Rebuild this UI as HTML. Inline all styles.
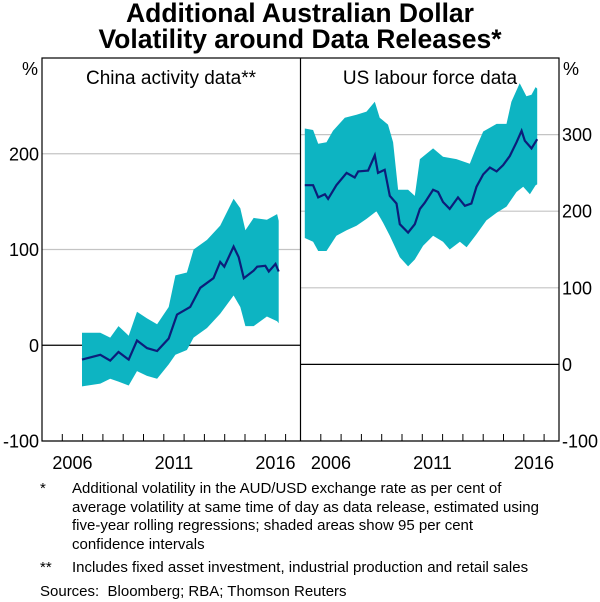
<!DOCTYPE html>
<html><head><meta charset="utf-8"><style>
body{margin:0;background:#fff;font-family:"Liberation Sans",Arial,sans-serif;}
#wrap{position:relative;width:600px;height:602px;overflow:hidden;}
.t{position:absolute;left:0;width:600px;text-align:center;font-weight:bold;font-size:26.5px;line-height:28px;}
.fn{position:absolute;font-size:15px;line-height:18.5px;white-space:nowrap;}
</style></head><body>
<div id="wrap">
<div class="t" style="top:-1px">Additional Australian Dollar</div>
<div class="t" style="top:25px">Volatility around Data Releases*</div>
<svg id="svg" width="600" height="602" style="position:absolute;left:0;top:0"></svg>
<div class="fn" style="left:40px;top:480px">*</div>
<div class="fn" style="left:72px;top:480px">Additional volatility in the AUD/USD exchange rate as per cent of<br>average volatility at same time of day as data release, estimated using<br>five-year rolling regressions; shaded areas show 95 per cent<br>confidence intervals</div>
<div class="fn" style="left:40px;top:559px">**</div>
<div class="fn" style="left:72px;top:559px">Includes fixed asset investment, industrial production and retail sales</div>
<div class="fn" style="left:40px;top:583px">Sources:&nbsp; Bloomberg; RBA; Thomson Reuters</div>
</div>
<script>
// China panel data
const chinaLineYears=[2006.97,2007.87,2008.36,2008.77,2009.27,2009.68,2010.17,2010.67,2011.24,2011.65,2012.3,2012.8,2013.45,2013.78,2013.98,2014.44,2014.69,2014.94,2015.43,2015.6,2016.0,2016.17,2016.5,2016.66];
const chinaLine=[-15,-10,-16,-7,-15,5,-3,-6,7,32,40,60,70,87,82,103,92,70,78,82,83,77,85,77];
const chinaBandYears=[2006.97,2007.87,2008.36,2008.77,2009.27,2009.68,2010.17,2010.67,2011.24,2011.57,2012.14,2012.47,2013.13,2013.78,2014.44,2014.77,2015.02,2015.43,2016.08,2016.58,2016.66];
const chinaUpper=[13,13,8,20,10,35,28,22,40,73,76,100,110,125,153,143,120,133,131,137,130];
const chinaLower=[-43,-40,-35,-38,-42,-27,-32,-35,-20,-10,-5,8,18,33,52,40,20,20,30,25,23];
// US panel data
const usLineYears=[2005.21,2005.62,2005.87,2006.2,2006.36,2006.77,2007.27,2007.67,2007.84,2008.33,2008.66,2008.82,2009.15,2009.4,2009.73,2009.89,2010.3,2010.63,2010.88,2011.12,2011.53,2011.78,2012.02,2012.35,2012.76,2013.1,2013.42,2013.67,2014.0,2014.33,2014.66,2014.98,2015.31,2015.64,2015.89,2016.05,2016.38,2016.66];
const usLine=[234,234,218,222,216,234,250,244,252,253,273,250,254,220,210,183,172,183,203,211,228,225,212,203,218,207,210,232,248,257,252,260,272,290,305,292,282,294];
const usUpperYears=[2005.21,2005.62,2005.87,2006.28,2006.6,2007.18,2007.76,2008.25,2008.66,2008.9,2009.31,2009.56,2009.81,2010.3,2010.63,2010.88,2011.53,2012.02,2012.68,2013.34,2013.67,2014.0,2014.66,2015.15,2015.39,2015.8,2016.13,2016.38,2016.58,2016.66];
const usUpper=[308,306,288,290,305,322,326,330,343,322,313,290,228,228,220,268,282,271,268,262,284,304,314,314,343,367,350,352,362,360];
const usLowerYears=[2005.21,2005.62,2005.87,2006.28,2006.77,2007.27,2007.76,2008.25,2008.74,2009.07,2009.4,2009.89,2010.3,2010.63,2011.04,2011.53,2012.02,2012.35,2012.85,2013.18,2013.67,2014.16,2014.66,2015.15,2015.64,2015.97,2016.3,2016.58,2016.66];
const usLower=[165,160,148,148,168,175,181,190,200,185,168,140,128,137,155,168,160,150,160,153,170,188,198,206,225,232,222,234,235];
const leftTicks=[-100,0,100,200];
const rightTicks=[-100,0,100,200,300];
const yearLabels=[2006,2011,2016];

const svg=document.getElementById('svg');
const NS='http://www.w3.org/2000/svg';
function mk(tag,attrs,parent){const e=document.createElementNS(NS,tag);for(const k in attrs)e.setAttribute(k,attrs[k]);(parent||svg).appendChild(e);return e;}
const TOP=58,BOT=441,L0=42,MID=300.5,R1=559,PX=20.3;
const FS=18;
const xL=y=>L0+(y-2005)*PX;
const xR=y=>MID+(y-2005)*PX;
const yL=v=>BOT-(v+100)/400*(BOT-TOP);
const yR=v=>BOT-(v+100)/500*(BOT-TOP);

leftTicks.forEach(v=>{
  const g=mk('line',{x1:L0,x2:MID,y1:yL(v),y2:yL(v),stroke:v===0?'#000':'#c4c4c4','stroke-width':1.2});
  
  
  const t=mk('text',{x:39,y:yL(v)+6.5,'text-anchor':'end','font-size':FS,'font-family':'Liberation Sans, sans-serif'});
  t.textContent=v;
  
  
});
rightTicks.forEach(v=>{
  const g=mk('line',{x1:MID,x2:R1,y1:yR(v),y2:yR(v),stroke:v===0?'#000':'#c4c4c4','stroke-width':1.2});
  
  
  const t=mk('text',{x:562,y:yR(v)+6.5,'text-anchor':'start','font-size':FS,'font-family':'Liberation Sans, sans-serif'});
  t.textContent=v;
  
  
});

function band(xs1,up,xs2,lo,fx,fy,name){
  let d='M'+xs1.map((y,i)=>fx(y).toFixed(1)+','+fy(up[i]).toFixed(1)).join('L');
  for(let i=lo.length-1;i>=0;i--)d+='L'+fx(xs2[i]).toFixed(1)+','+fy(lo[i]).toFixed(1);
  const p=mk('path',{d:d+'Z',fill:'#0db4c2'});
  
  
}
function line(xs,vs,fx,fy,name){
  const p=mk('path',{d:'M'+xs.map((y,i)=>fx(y).toFixed(1)+','+fy(vs[i]).toFixed(1)).join('L'),fill:'none',stroke:'#0c1d7a','stroke-width':2.2});
  
  
}
band(chinaBandYears,chinaUpper,chinaBandYears,chinaLower,xL,yL,'china-confidence-band');
line(chinaLineYears,chinaLine,xL,yL,'china-volatility-line');
band(usUpperYears,usUpper,usLowerYears,usLower,xR,yR,'us-confidence-band');
line(usLineYears,usLine,xR,yR,'us-volatility-line');

const fr=mk('rect',{x:L0,y:TOP,width:R1-L0,height:BOT-TOP,fill:'none',stroke:'#000','stroke-width':1.2});


const dv=mk('line',{x1:MID,x2:MID,y1:TOP,y2:BOT,stroke:'#000','stroke-width':1.2});



for(let yr=2006;yr<=2017;yr++){
  [[xL,'left'],[xR,'right']].forEach(([f,s])=>{
    const x=f(yr);
    if(x>(s==='left'?L0:MID)+1&&x<(s==='left'?MID:R1)-1){
      const tk=mk('line',{x1:x,x2:x,y1:BOT,y2:BOT-7,stroke:'#000','stroke-width':1});
      
      
    }
  });
}
yearLabels.forEach(yr=>{
  [[xL,'left'],[xR,'right']].forEach(([f,s])=>{
    const t=mk('text',{x:f(yr+0.5),y:469,'text-anchor':'middle','font-size':FS,'font-family':'Liberation Sans, sans-serif'});
    t.textContent=yr;
    
    
  });
});

[[30,'left-unit-label'],[571,'right-unit-label']].forEach(([x,n])=>{
  const t=mk('text',{x:x,y:75,'text-anchor':'middle','font-size':FS,'font-family':'Liberation Sans, sans-serif'});
  t.textContent='%';
  
  
});
const p1=mk('text',{x:171,y:84,'text-anchor':'middle','font-size':19,'font-family':'Liberation Sans, sans-serif'});
p1.textContent='China activity data**';


const p2=mk('text',{x:430,y:84,'text-anchor':'middle','font-size':19,'font-family':'Liberation Sans, sans-serif'});
p2.textContent='US labour force data';


</script>
</body></html>
